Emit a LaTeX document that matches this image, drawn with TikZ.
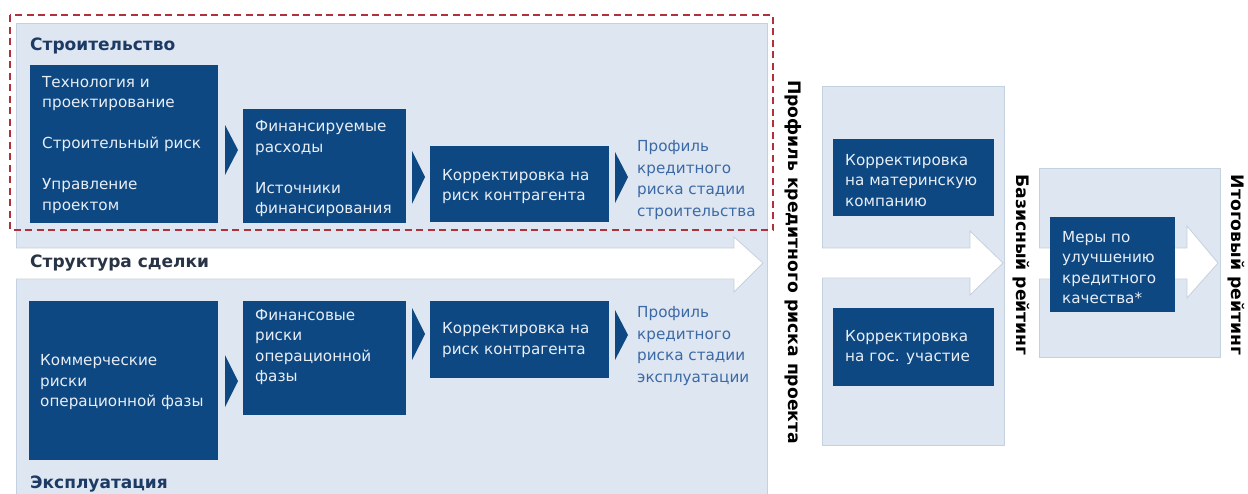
\documentclass[tikz,border=0pt]{standalone}
\usepackage{fontspec}
\setmainfont{DejaVu Sans}
\definecolor{boxblue}{RGB}{14,72,130}
\definecolor{boxtxt}{RGB}{232,238,246}
\definecolor{panel}{RGB}{221,230,241}
\definecolor{panelline}{RGB}{196,209,224}
\definecolor{titleblue}{RGB}{28,58,100}
\definecolor{structtxt}{RGB}{40,52,70}
\definecolor{proftxt}{RGB}{60,105,165}
\definecolor{dashred}{RGB}{176,48,60}
\definecolor{arrline}{RGB}{200,208,218}
\begin{document}
\begin{tikzpicture}[x=1pt,y=-1pt,
  box/.style={fill=boxblue, draw=none, anchor=north west, inner sep=0pt},
  boxtext/.style={text=boxtxt, align=left, anchor=west, inner sep=0pt, font=\fontsize{15.2}{20.5}\selectfont},
  proftext/.style={text=proftxt, align=left, anchor=west, inner sep=0pt, font=\fontsize{15.2}{21.5}\selectfont},
  title/.style={text=titleblue, anchor=base west, inner sep=0pt, font=\fontsize{17}{20}\selectfont\bfseries},
  vlabel/.style={rotate=-90, text=black, inner sep=0pt, font=\fontsize{17.2}{20}\selectfont\bfseries},
  panelbox/.style={fill=panel, draw=panelline, line width=0.8pt},
  whitearrow/.style={fill=white, draw=arrline, line width=0.8pt},
  chevron/.style={fill=boxblue, draw=none}
]
\useasboundingbox (0,0) rectangle (1248,493);

% main panel
\path[panelbox] (16,23) rectangle (767,500);
\path[whitearrow] (16,248) -- (734,248) -- (734,237) -- (763,263) -- (734,292) -- (734,279) -- (16,279);

% right panel 1
\path[panelbox] (822,86) rectangle (1004,445);
\path[whitearrow] (822,248) -- (970,248) -- (970,231) -- (1003,263) -- (970,295) -- (970,278) -- (822,278);

% right panel 2
\path[panelbox] (1039,168) rectangle (1220,357);
\path[whitearrow] (1039,248) -- (1187,248) -- (1187,226) -- (1218,263) -- (1187,298) -- (1187,279) -- (1039,279);

% titles
\node[title] (tstroi) at (30,50) {Строительство};
\node[title, text=structtxt] (tstruct) at (30,267) {Структура сделки};
\node[title] (texpl) at (30,488) {Эксплуатация};

% top row boxes
\node[box, minimum width=188pt, minimum height=158pt] (A) at (30,65) {};
\node[boxtext] (At) at (42,145) {Технология и\\проектирование\\[20.5pt]Строительный риск\\[20.5pt]Управление\\проектом};
\node[box, minimum width=163pt, minimum height=114pt] (B) at (243,109) {};
\node[boxtext] (Bt) at (255,169) {Финансируемые\\расходы\\[20.5pt]Источники\\финансирования};
\node[box, minimum width=179pt, minimum height=76pt] (C) at (430,146) {};
\node[boxtext] (Ct) at (442,186.5) {Корректировка на\\риск контрагента};
\node[proftext] (P1) at (637,180) {Профиль\\кредитного\\риска стадии\\строительства};

% top chevrons
\fill[chevron] (225,125) -- (238,150) -- (225,175) -- cycle;
\fill[chevron] (412,151) -- (425,177) -- (412,204) -- cycle;
\fill[chevron] (615,152) -- (628,177) -- (615,203) -- cycle;

% bottom row boxes
\node[box, minimum width=189pt, minimum height=159pt] (D) at (29,301) {};
\node[boxtext] (Dt) at (40,382.5) {Коммерческие\\риски\\операционной фазы};
\node[box, minimum width=163pt, minimum height=114pt] (E) at (243,301) {};
\node[boxtext] (Et) at (255,347) {Финансовые\\риски\\операционной\\фазы};
\node[box, minimum width=179pt, minimum height=77pt] (F) at (430,301) {};
\node[boxtext] (Ft) at (442,340) {Корректировка на\\риск контрагента};
\node[proftext] (P2) at (637,346) {Профиль\\кредитного\\риска стадии\\эксплуатации};

% bottom chevrons
\fill[chevron] (225,355) -- (238,381) -- (225,407) -- cycle;
\fill[chevron] (412,308) -- (425,334) -- (412,360) -- cycle;
\fill[chevron] (615,310) -- (628,335) -- (615,360) -- cycle;

% dashed frame
\draw[dashred, line width=1.4pt, dash pattern=on 7pt off 4.5pt] (10,15) rectangle (773,230);

% right boxes
\node[box, minimum width=161pt, minimum height=77pt] (G) at (833,139) {};
\node[boxtext] (Gt) at (845,180.5) {Корректировка\\на материнскую\\компанию};
\node[box, minimum width=161pt, minimum height=78pt] (H) at (833,308) {};
\node[boxtext] (Ht) at (845,347.5) {Корректировка\\на гос. участие};
\node[box, minimum width=125pt, minimum height=95pt] (I) at (1050,217) {};
\node[boxtext] (It) at (1062,267.5) {Меры по\\улучшению\\кредитного\\качества*};

% vertical labels
\node[vlabel] (V1) at (793,262) {Профиль кредитного риска проекта};
\node[vlabel] (V2) at (1021,265) {Базисный рейтинг};
\node[vlabel] (V3) at (1236,265) {Итоговый рейтинг};
\end{tikzpicture}
\end{document}
